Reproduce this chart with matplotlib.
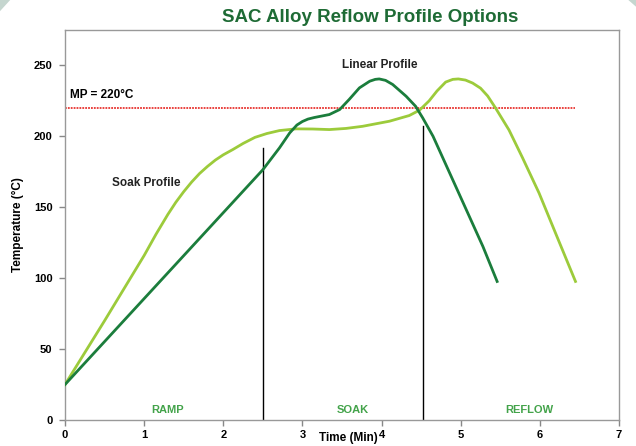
import numpy as np
import matplotlib.pyplot as plt
from matplotlib.patches import Polygon

plt.rcParams['font.family'] = ['Liberation Sans', 'DejaVu Sans']

# soak profile (light green)
soak_t = [0.0, 0.5, 0.75, 1.0, 1.15, 1.3, 1.4, 1.5, 1.6, 1.7, 1.8, 1.9, 2.0,
          2.12, 2.25, 2.4, 2.55, 2.71, 2.92, 3.13, 3.34, 3.55, 3.76, 4.10, 4.35,
          4.48, 4.60, 4.70, 4.81, 4.90, 4.97, 5.06, 5.15, 5.25, 5.34, 5.44, 5.61,
          5.78, 5.99, 6.20, 6.45]
soak_temp = [25, 70, 93, 116, 131, 145, 153.5, 161, 167.8, 173.8, 178.8, 183.3, 187,
             190.7, 195, 199.3, 202, 204.1, 205.3, 205.2, 204.8, 205.6, 207.1, 210.7, 214.7,
             218.5, 225, 232, 238.3, 240.2, 240.5, 239.7, 237.6, 234, 228.5, 220, 204.5,
             185, 160, 131.5, 97.7]

# linear profile (dark green)
lin_t = [0.0, 2.5, 2.71, 2.84, 2.93, 3.0, 3.07, 3.15, 3.34, 3.47, 3.59, 3.72, 3.85,
         3.92, 3.97, 4.05, 4.14, 4.31, 4.43, 4.52, 4.65, 4.86, 5.07, 5.28, 5.46]
lin_temp = [25, 176.5, 191.9, 202.5, 208, 210.5, 212.2, 213.3, 215.4, 218.9, 226, 234.2, 238.9,
            240.2, 240.5, 239.5, 236.6, 228.3, 221.2, 213, 200.1, 174.2, 148.3, 122.4, 97.7]

mp_temp = 220
mp_end = 6.45
zone_edges = [2.5, 4.52]
zone_tops = [192, 207.6]
zone_names = ['RAMP', 'SOAK', 'REFLOW']
zone_centers = [1.3, 3.63, 5.87]

fig = plt.figure(figsize=(6.36, 4.46), dpi=100)
# faint corner shading
fig.patches.append(Polygon([[0, 1], [0.016, 1], [0, 0.975]], closed=True,
                           transform=fig.transFigure, facecolor='#c5d6cf', edgecolor='none'))
fig.patches.append(Polygon([[1, 1], [0.988, 1], [1, 0.985]], closed=True,
                           transform=fig.transFigure, facecolor='#c5d6cf', edgecolor='none'))

ax = fig.add_axes([0.1022, 0.0583, 0.8711, 0.8744])

ax.plot([0, mp_end], [mp_temp, mp_temp], color='#e8332f', lw=1.3, ls=(0, (1, 0.6)), zorder=2)
for xe, top in zip(zone_edges, zone_tops):
    ax.plot([xe, xe], [0, top], color='black', lw=1.0, zorder=2)

ax.plot(soak_t, soak_temp, color='#9ccb3b', lw=2.0, solid_joinstyle='round', zorder=3)
ax.plot(lin_t, lin_temp, color='#1b7d3c', lw=2.0, solid_joinstyle='round', zorder=4)

ax.text(0.06, 225, 'MP = 220°C', fontsize=8.5, fontweight='bold', ha='left', va='bottom')
ax.text(3.98, 246, 'Linear Profile', fontsize=8.5, fontweight='bold', ha='center', va='bottom',
        color='#222222')
ax.text(1.03, 167, 'Soak Profile', fontsize=8.5, fontweight='bold', ha='center', va='center',
        color='#222222')
for name, xc in zip(zone_names, zone_centers):
    ax.text(xc, 7, name, fontsize=8, fontweight='bold', ha='center', va='center', color='#43a34a')

ax.set_xlim(0, 7)
ax.set_ylim(0, 275)
ax.set_xticks(range(0, 8))
ax.set_yticks(range(0, 251, 50))
for lab in ax.get_xticklabels() + ax.get_yticklabels():
    lab.set_fontweight('bold')
ax.tick_params(axis='both', labelsize=8, color='#888888', length=4, width=1, direction='out')
ax.tick_params(axis='y', pad=5)
for s in ax.spines.values():
    s.set_color('#999999')
    s.set_linewidth(1.0)

ax.set_ylabel('Temperature (°C)', fontsize=8.5, fontweight='bold', labelpad=7)
fig.text(348 / 636, 1 - 438 / 446, 'Time (Min)', fontsize=8.5, fontweight='bold',
         ha='center', va='center')
fig.text(370 / 636, 1 - 17 / 446, 'SAC Alloy Reflow Profile Options', fontsize=13.5,
         fontweight='bold', ha='center', va='center', color='#1e6b35')

fig.savefig('out.png', dpi=100)
